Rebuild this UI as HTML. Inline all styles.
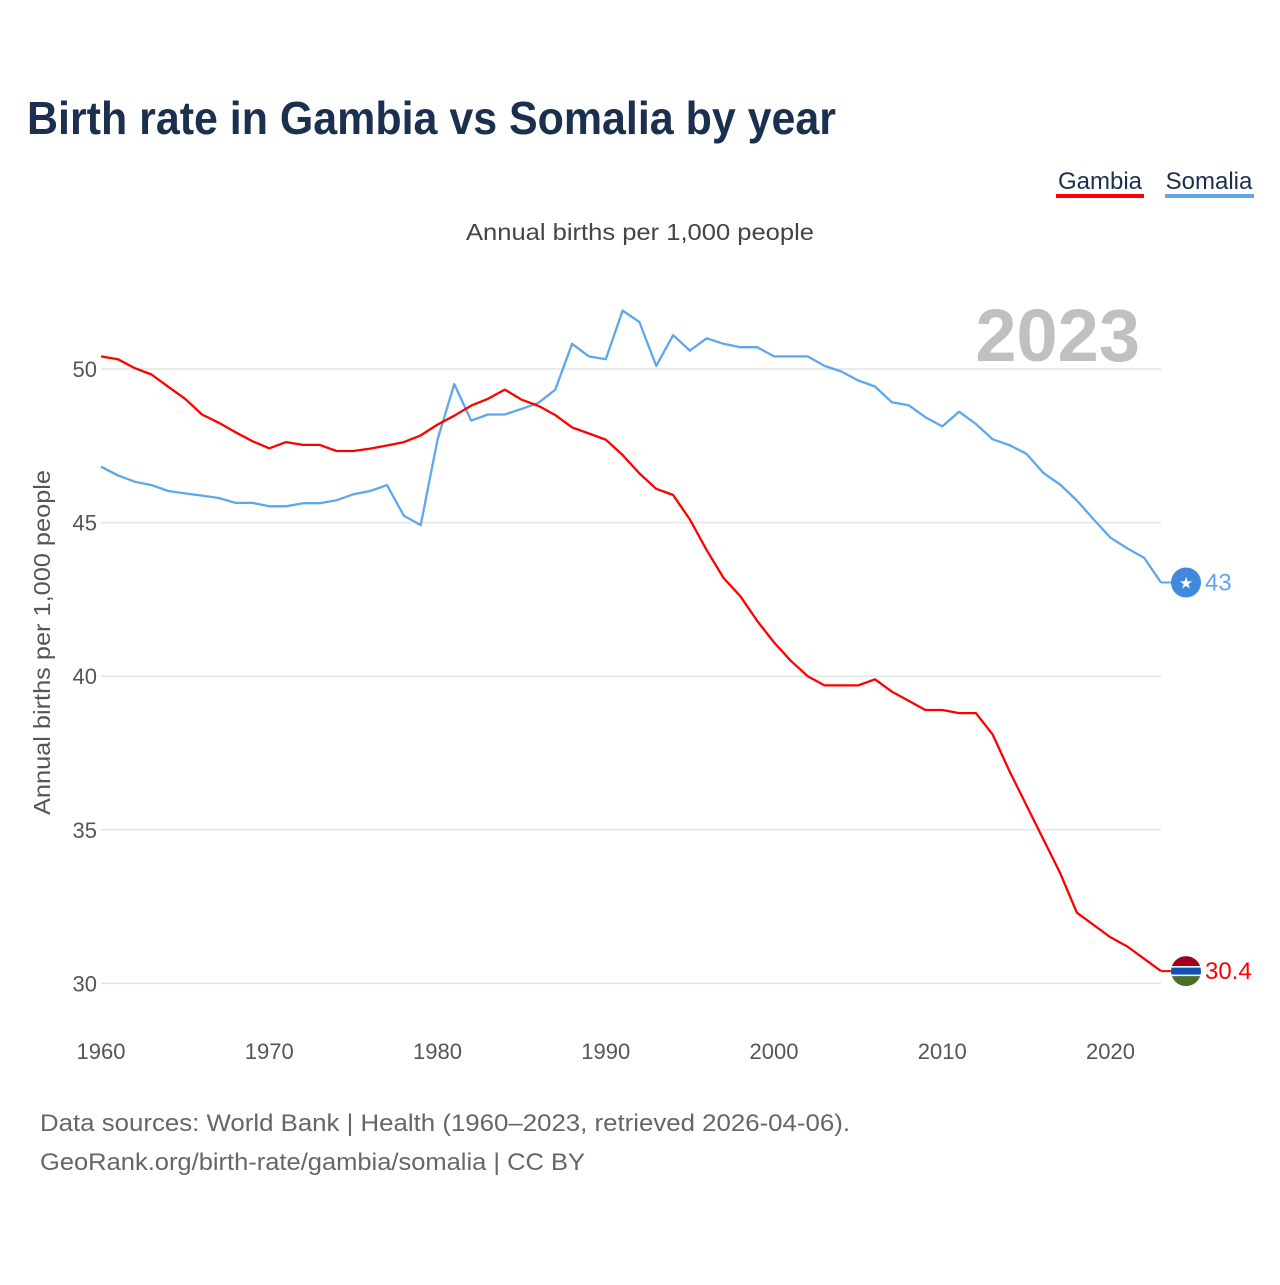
<!DOCTYPE html>
<html><head><meta charset="utf-8"><style>
html,body{margin:0;padding:0;background:#fff;}
body{width:1280px;height:1280px;overflow:hidden;font-family:"Liberation Sans",sans-serif;}
</style></head><body>
<svg id="chart" width="1280" height="1280" xmlns="http://www.w3.org/2000/svg" style="font-family:'Liberation Sans',sans-serif">
<text x="27" y="134" font-size="46" font-weight="bold" fill="#1b2f4f" textLength="809" lengthAdjust="spacingAndGlyphs">Birth rate in Gambia vs Somalia by year</text>
<g>
<text x="1100" y="189" font-size="24" fill="#1b2f4f" text-anchor="middle">Gambia</text>
<rect x="1056" y="194" width="88" height="4" fill="#ff0000"/>
<text x="1209" y="189" font-size="24" fill="#1b2f4f" text-anchor="middle">Somalia</text>
<rect x="1165" y="194" width="89" height="4" fill="#5ea7ec"/>
</g>
<text x="466" y="240" font-size="23" fill="#444" textLength="348" lengthAdjust="spacingAndGlyphs">Annual births per 1,000 people</text>
<text x="1140" y="361" font-size="74" font-weight="bold" fill="#c0c0c0" text-anchor="end">2023</text>
<text transform="translate(50,815) rotate(-90)" font-size="23" fill="#555" textLength="345" lengthAdjust="spacingAndGlyphs">Annual births per 1,000 people</text>
<g id="grid"></g><g id="yticks"></g><g id="xticks"></g><g id="lines"></g><g id="ends"></g>
<text x="40" y="1131" font-size="24" fill="#666" textLength="810" lengthAdjust="spacingAndGlyphs">Data sources: World Bank | Health (1960–2023, retrieved 2026-04-06).</text>
<text x="40" y="1170" font-size="24" fill="#666" textLength="545" lengthAdjust="spacingAndGlyphs">GeoRank.org/birth-rate/gambia/somalia | CC BY</text>
</svg>
<script>
const years=[];for(let y=1960;y<=2023;y++)years.push(y);
const gambia=[50.41,50.32,50.03,49.82,49.42,49.03,48.52,48.25,47.94,47.65,47.42,47.62,47.53,47.53,47.33,47.33,47.41,47.51,47.62,47.84,48.19,48.48,48.81,49.03,49.33,49.0,48.8,48.5,48.1,47.9,47.7,47.2,46.6,46.1,45.9,45.1,44.1,43.2,42.6,41.8,41.1,40.5,40.0,39.7,39.7,39.7,39.9,39.5,39.2,38.9,38.9,38.8,38.8,38.1,36.9,35.8,34.7,33.6,32.3,31.9,31.5,31.2,30.8,30.4];
const somalia=[46.82,46.54,46.33,46.22,46.03,45.95,45.88,45.80,45.64,45.64,45.53,45.53,45.63,45.63,45.73,45.92,46.03,46.22,45.22,44.92,47.7,49.51,48.32,48.52,48.52,48.70,48.9,49.33,50.82,50.41,50.32,51.9,51.53,50.1,51.1,50.6,51.0,50.82,50.71,50.71,50.41,50.41,50.41,50.1,49.92,49.63,49.43,48.92,48.82,48.43,48.13,48.61,48.21,47.71,47.52,47.24,46.62,46.24,45.72,45.1,44.51,44.16,43.85,43.05];
const yTicks=[30,35,40,45,50];
const xTicks=[1960,1970,1980,1990,2000,2010,2020];
const endLabels=["30.4","43"];
const NS="http://www.w3.org/2000/svg";
const x=v=>101+(v-1960)*(1161-101)/63;
const y=v=>369+(50-v)*30.72;
function mk(tag,attrs,parent,txt){const e=document.createElementNS(NS,tag);for(const k in attrs)e.setAttribute(k,attrs[k]);if(txt!==undefined)e.textContent=txt;parent.appendChild(e);return e;}
const G=id=>document.getElementById(id);
yTicks.forEach(t=>{
 const l=mk('line',{x1:101,x2:1161,y1:y(t),y2:y(t),stroke:'#e4e4e4','stroke-width':1.5},G('grid'));
 
 
 const tx=mk('text',{x:97,y:y(t)+8,'font-size':22,fill:'#555','text-anchor':'end'},G('yticks'),String(t));
 
 
});
xTicks.forEach(t=>{
 const tx=mk('text',{x:x(t),y:1059,'font-size':22,fill:'#555','text-anchor':'middle'},G('xticks'),String(t));
 
 
});
function line(data,color,name){
 const d=data.map((v,i)=>(i?'L':'M')+x(years[i]).toFixed(1)+','+y(v).toFixed(1)).join('');
 const p=mk('path',{d:d,fill:'none',stroke:color,'stroke-width':2.3,'stroke-linejoin':'round'},G('lines'));
 
 
}
line(somalia,'#5ea7ec','somalia-line');
line(gambia,'#ff0000','gambia-line');
const ends=G('ends');
const sv=somalia[somalia.length-1], sy=y(sv);
const sc=mk('line',{x1:1161,x2:1175,y1:sy,y2:sy,stroke:'#5ea7ec','stroke-width':2},ends);


const sg=mk('g',{},ends);


mk('circle',{cx:1186,cy:sy,r:15,fill:'#4189dd'},sg);
mk('text',{x:1186,y:sy+6,'font-size':16,fill:'#fff','text-anchor':'middle'},sg,'★');
const sl=mk('text',{x:1205,y:sy+8,'font-size':24,fill:'#5ea7ec'},ends,endLabels[1]);


const gv=gambia[gambia.length-1], gy=y(gv);
const gc=mk('line',{x1:1161,x2:1175,y1:gy,y2:gy,stroke:'#ff0000','stroke-width':2},ends);


const gg=mk('g',{},ends);


const cp=mk('clipPath',{id:'gclip'},gg);mk('circle',{cx:1186,cy:gy,r:15},cp);
const gf=mk('g',{'clip-path':'url(#gclip)'},gg);
mk('rect',{x:1171,y:gy-15,width:30,height:10,fill:'#a00020'},gf);
mk('rect',{x:1171,y:gy-5,width:30,height:10,fill:'#fff'},gf);
mk('rect',{x:1171,y:gy-3.5,width:30,height:7,fill:'#0c55b5'},gf);
mk('rect',{x:1171,y:gy+5,width:30,height:10,fill:'#4a6f2a'},gf);
const gl=mk('text',{x:1205,y:gy+8,'font-size':24,fill:'#ff0000'},ends,endLabels[0]);


</script>
</body></html>
